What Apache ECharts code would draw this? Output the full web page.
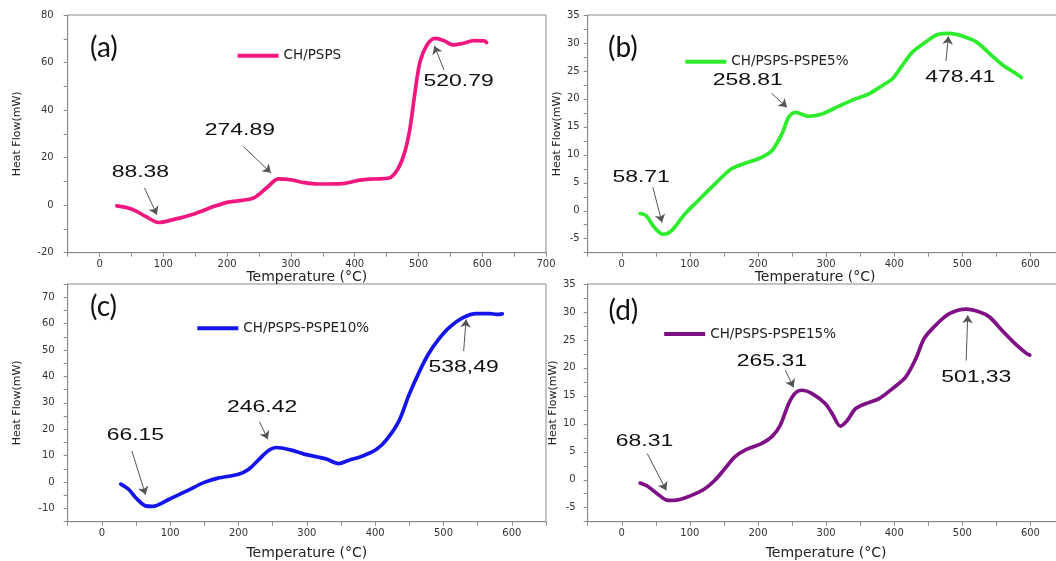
<!DOCTYPE html>
<html><head><meta charset="utf-8">
<script src="https://cdn.jsdelivr.net/npm/echarts@6.0.0/dist/echarts.min.js"></script>
<style>html,body{margin:0;padding:0;background:#fff}#c{width:1056px;height:561px}</style>
</head><body><div id="c"></div>
<script>
// ---------- data ----------
const seriesNames = ['CH/PSPS', 'CH/PSPS-PSPE5%', 'CH/PSPS-PSPE10%', 'CH/PSPS-PSPE15%'];
const panelLabels = ['(a)', '(b)', '(c)', '(d)'];

const tempA = [27, 50, 72, 92.6, 115, 148, 180, 202, 223.6, 242.6, 261.6, 280.5, 299.4, 321, 342.8, 380.7, 407.8, 429.4, 453.8, 467, 478, 486.3, 494.4, 502.5, 513.4, 525.8, 540.4, 554, 570, 586.5, 602.8, 607];
const flowA = [-0.3, -1.6, -4.7, -7.3, -6.1, -3.7, -0.5, 1.3, 2, 3.2, 7.2, 11.1, 10.7, 9.5, 8.9, 9.1, 10.5, 11, 11.4, 14.9, 21.9, 31.7, 47.1, 60.4, 67.4, 70.2, 69.2, 67.4, 68.1, 69.2, 69.1, 68.4];

const tempB = [27, 36, 48, 60.5, 72.8, 92.5, 112, 137, 161, 181, 200.7, 220, 235, 245, 255, 274.5, 294, 318.7, 343, 363, 382.7, 397.4, 412, 427, 446.6, 463.8, 481, 500.7, 520.4, 540, 559.8, 579.4, 586.8];
const flowB = [-0.5, -0.9, -3.0, -4.2, -3.6, -0.6, 1.8, 4.8, 7.5, 8.5, 9.3, 10.7, 13.7, 16.7, 17.6, 16.9, 17.3, 18.7, 20.0, 20.9, 22.4, 23.6, 26, 28.4, 30.2, 31.5, 31.7, 31.2, 30.2, 28.1, 26, 24.5, 23.8];

const tempC = [27.7, 38.8, 51.4, 64, 74, 99.3, 124.6, 149.8, 170, 200, 215, 230.5, 243, 255.7, 275.8, 296, 316, 328.8, 346.5, 361.6, 381.8, 402, 417, 434.7, 449.8, 465, 477.5, 492.7, 507.8, 528, 548, 568, 578.4, 586];
const flowC = [-0.8, -2.7, -6.4, -9, -9.2, -6.4, -3.3, -0.1, 1.5, 3.0, 4.9, 8.7, 11.8, 13.1, 12.2, 10.6, 9.5, 8.7, 7.0, 8.3, 9.9, 12.4, 16.2, 23.1, 33.2, 42, 48.3, 54, 58.4, 62.2, 63.8, 63.8, 63.5, 63.7];

const tempD = [27, 38.4, 53, 68, 82.6, 102.3, 122, 136.7, 151.5, 166, 181, 205.6, 220.4, 232.7, 245, 254.8, 264.6, 279.4, 299, 309, 321, 331, 343.3, 358, 377.8, 397.4, 417, 431.9, 444.2, 461.4, 481, 505.7, 525.3, 540, 559.8, 579.4, 594, 599];
const flowD = [-0.6, -1.2, -2.6, -3.7, -3.6, -2.8, -1.6, -0.1, 2.0, 4.1, 5.3, 6.5, 7.7, 9.75, 13.6, 15.5, 16.0, 15.4, 13.6, 11.8, 9.6, 10.6, 12.7, 13.6, 14.5, 16.3, 18.4, 21.7, 25.3, 27.7, 29.7, 30.5, 30, 29.1, 26.5, 24.1, 22.6, 22.3];

// axis ranges and tick steps
const xMin = [-50, -50, -50, -50];
const xMax = [700, 650, 650, 650];
const xTickStep = [50, 50, 50, 50];
const xLabelStep = [100, 100, 100, 100];
const yMin = [-20, -7.5, -15, -7.5];
const yMax = [80, 35, 75, 35];
const yTickStep = [10, 2.5, 5, 2.5];
const yLabelStep = [20, 5, 10, 5];

// peak annotation texts
const peakTextA = ['88.38', '274.89', '520.79'];
const peakTextB = ['58.71', '258.81', '478.41'];
const peakTextC = ['66.15', '246.42', '538,49'];
const peakTextD = ['68.31', '265.31', '501,33'];

// ---------- layout / style (not data) ----------
const colors = ['#F2167F', '#2CEC2C', '#1414EE', '#7E0F84'];
const grids = [
  {left: 67.7, top: 15, width: 478.3, height: 237.7},
  {left: 587.7, top: 15, width: 476.8, height: 237.7},
  {left: 67.7, top: 284, width: 478.3, height: 237.7},
  {left: 587.7, top: 284, width: 476.8, height: 237.7}
];
// annotation label positions (data coords) and arrow segments
const labelPos = [
  [[64, 14], [220, 31.3], [563, 52.3]],
  [[28.5, 6.0], [185, 23.4], [497, 23.8]],
  [[49, 17.7], [234.5, 28.2], [529.5, 43.3]],
  [[33.4, 6.8], [220.4, 21.1], [520.4, 18.4]]
];
const arrowPos = [
  [[[70.3, 7.3], [89.8, -4]], [[226, 24.5], [268.6, 13.6]], [[540, 56.9], [525, 67]]],
  [[[45.7, 4.2], [59, -2.1]], [[220, 21], [242.5, 18.5]], [[476, 26.8], [479.6, 31.2]]],
  [[[43.9, 11.8], [64, -4.8]], [[230.5, 22.9], [243, 16.2]], [[529.5, 49.6], [533, 61.6]]],
  [[[37.4, 4.7], [65.4, -1.9]], [[240, 19.6], [252.3, 16.5]], [[505.6, 21.3], [508, 29.4]]]
];
const legendPos = [[237.6, 50.7], [685.3, 56.7], [197.3, 323.3], [664.2, 329]];
const panelLabelPos = [[90, 50], [608, 50], [90, 309.3], [608.5, 313.3]];
const yLabelMargin = [14, 8, 13, 12];
const yNameGap = [45.5, 24, 45, 20];
const xNameGap = [14, 17, 25, 25];
const xNamePad = [[0, 0, 0, 0], [0, 22, 0, 0], [0, 0, 0, 0], [0, 0, 0, 0]];

const temps = [tempA, tempB, tempC, tempD];
const flows = [flowA, flowB, flowC, flowD];
const peakTexts = [peakTextA, peakTextB, peakTextC, peakTextD];

const axisGray = '#8a8a8a';
const tickFont = 'DejaVu Sans';

function isMult(v, step) {
  return Math.abs(v / step - Math.round(v / step)) < 1e-6;
}

const chart = echarts.init(document.getElementById('c'), null, {renderer: 'canvas'});

const option = {
  animation: false,
  backgroundColor: '#fff',
  title: panelLabels.map((t, i) => ({
    text: t, left: panelLabelPos[i][0], top: panelLabelPos[i][1] - 16, padding: 0,
    textStyle: {fontFamily: 'Lato', fontSize: 28, fontWeight: 'normal', color: '#111'}
  })),
  legend: seriesNames.map((n, i) => ({
    data: [n], left: legendPos[i][0], top: legendPos[i][1] - 2, padding: 0,
    icon: 'rect', itemWidth: 41, itemHeight: 4, selectedMode: false,
    textStyle: {fontFamily: 'DejaVu Sans', fontSize: 13.5, color: '#222'}
  })),
  grid: grids.map(g => Object.assign({
    show: true, borderColor: axisGray, borderWidth: 1, backgroundColor: 'transparent',
    containLabel: false, outerBoundsMode: 'none'
  }, g)),
  xAxis: grids.map((g, i) => ({
    type: 'value', gridIndex: i, min: xMin[i], max: xMax[i], interval: xTickStep[i],
    name: 'Temperature (\u00B0C)', nameLocation: 'middle', nameGap: xNameGap[i],
    nameTextStyle: {fontFamily: 'DejaVu Sans', fontSize: 14, color: '#222', padding: xNamePad[i]},
    axisLine: {show: true, onZero: false, lineStyle: {color: axisGray, width: 1}},
    axisTick: {show: true, inside: false, length: 4, lineStyle: {color: axisGray}},
    splitLine: {show: false},
    axisLabel: {
      margin: 7, fontFamily: tickFont, fontSize: 10, color: '#333',
      formatter: v => isMult(v, xLabelStep[i]) ? String(Math.round(v)) : ''
    }
  })),
  yAxis: grids.map((g, i) => ({
    type: 'value', gridIndex: i, min: yMin[i], max: yMax[i], interval: yTickStep[i],
    name: 'Heat Flow(mW)', nameLocation: 'middle', nameRotate: 90, nameGap: yNameGap[i],
    nameTextStyle: {fontFamily: 'DejaVu Sans', fontSize: 11, color: '#222'},
    axisLine: {show: true, onZero: false, lineStyle: {color: axisGray, width: 1}},
    axisTick: {show: true, inside: false, length: 4, lineStyle: {color: axisGray}},
    splitLine: {show: false},
    axisLabel: {
      margin: yLabelMargin[i], fontFamily: tickFont, fontSize: 10, color: '#333',
      formatter: v => isMult(v, yLabelStep[i]) ? String(Math.round(v)) : ''
    }
  })),
  series: seriesNames.map((n, i) => ({
    name: n, type: 'line', xAxisIndex: i, yAxisIndex: i,
    data: temps[i].map((t, k) => [t, flows[i][k]]),
    smooth: 0.3, symbol: 'none', showSymbol: false,
    itemStyle: {color: colors[i]},
    lineStyle: {color: colors[i], width: 3.7, cap: 'round', join: 'round'},
    markLine: {
      silent: true, animation: false,
      symbol: ['none', 'arrow'], symbolSize: 8,
      label: {show: false},
      lineStyle: {color: '#555', width: 1, type: 'solid'},
      itemStyle: {color: '#111'},
      emphasis: {disabled: true},
      data: arrowPos[i].map(a => [
        {coord: a[0], symbol: 'none'},
        {coord: a[1], symbol: 'arrow', symbolSize: 8,
          itemStyle: {color: '#111', borderColor: '#111', borderWidth: 0}}
      ])
    }
  }))
};
chart.setOption(option);

// peak value texts, placed via the grid's own coordinate conversion
const graphics = [];
peakTexts.forEach((texts, i) => {
  texts.forEach((txt, k) => {
    const p = chart.convertToPixel({gridIndex: i}, labelPos[i][k]);
    graphics.push({
      type: 'text', x: p[0], y: p[1], scaleX: 1.35, scaleY: 1, silent: true,
      style: {text: txt, fill: '#111', font: '17px "Liberation Sans", Arial, sans-serif',
        textAlign: 'center', textVerticalAlign: 'middle'}
    });
  });
});
chart.setOption({graphic: graphics});
</script>
</body></html>
